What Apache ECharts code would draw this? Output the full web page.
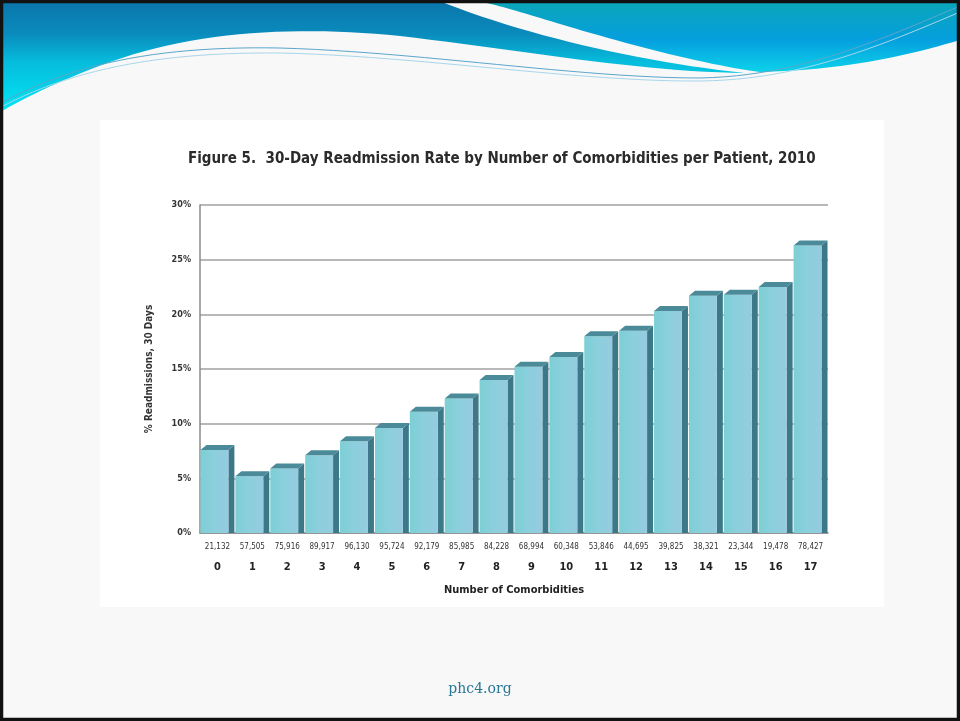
<!DOCTYPE html>
<html>
<head>
<meta charset="utf-8">
<title>30-Day Readmission Rate by Number of Comorbidities</title>
<script src="https://cdn.jsdelivr.net/npm/echarts@6/dist/echarts.min.js"></script>
<style>
  html, body { margin: 0; padding: 0; background: #f8f8f8; }
  #main { width: 960px; height: 721px; }
</style>
</head>
<body>
<div id="main"></div>
<script>
// Number of comorbidities per patient (17 = 17 or more)
const comorbidities = ['0', '1', '2', '3', '4', '5', '6', '7', '8', '9', '10', '11', '12', '13', '14', '15', '16', '17'];
// Patients in each group
const patientCounts = ['21,132', '57,505', '75,916', '89,917', '96,130', '95,724', '92,179', '85,985', '84,228',
                       '68,994', '60,348', '53,846', '44,695', '39,825', '38,321', '23,344', '19,478', '78,427'];
// 30-day readmission rate, percent
const readmissionRate = [7.6, 5.2, 5.9, 7.1, 8.4, 9.6, 11.1, 12.3, 14.0, 15.2, 16.1, 18.0, 18.5, 20.3, 21.7, 21.8, 22.5, 26.3];

const yTicks = { min: 0, max: 30, interval: 5 };

const narrow = "'Liberation Sans Narrow', 'DejaVu Sans Condensed', 'Arial Narrow', sans-serif";

const chart = echarts.init(document.getElementById('main'), null, { renderer: 'canvas' });

// Box-shaped bar: front face, dark right side, dark top cap
function renderBox(params, api) {
  const idx = api.value(0);
  const val = api.value(1);
  const top = api.coord([idx, val]);
  const base = api.coord([idx, 0]);
  const band = api.size([1, 0])[0];
  const w = band * 0.8;
  const d = 6, dy = 5;
  const x0 = top[0] - (w + d) / 2;
  const yt = top[1], yb = base[1];
  return {
    type: 'group',
    children: [
      {
        type: 'polygon',
        shape: { points: [[x0 + w, yt], [x0 + w + d, yt - dy], [x0 + w + d, yb], [x0 + w, yb]] },
        style: { fill: '#3c7888' }
      },
      {
        type: 'rect',
        shape: { x: x0, y: yt, width: w, height: yb - yt },
        style: {
          fill: new echarts.graphic.LinearGradient(0, 0, 1, 0, [
            { offset: 0, color: '#7ccfd5' },
            { offset: 0.5, color: '#8ccfdd' },
            { offset: 1, color: '#95cbe0' }
          ])
        }
      },
      {
        type: 'polygon',
        shape: { points: [[x0, yt], [x0 + d, yt - dy], [x0 + w + d, yt - dy], [x0 + w, yt]] },
        style: { fill: '#4b8b99' }
      }
    ]
  };
}

// Turn a start point plus cubic/line segments into a point list for the banner shapes
function trace(start, segs) {
  const pts = [start];
  let p = start;
  segs.forEach(s => {
    if (s.length === 1) { pts.push(s[0]); p = s[0]; return; }
    const [c1, c2, e] = s;
    for (let k = 1; k <= 24; k++) {
      const t = k / 24, u = 1 - t;
      pts.push([
        u * u * u * p[0] + 3 * u * u * t * c1[0] + 3 * u * t * t * c2[0] + t * t * t * e[0],
        u * u * u * p[1] + 3 * u * u * t * c1[1] + 3 * u * t * t * c2[1] + t * t * t * e[1]
      ]);
    }
    p = e;
  });
  return pts;
}

const leftWave = trace([0, 0], [
  [[437, 0]],
  [[520, 34], [640, 62], [745, 73]],
  [[640, 72], [520, 50], [400, 36]],
  [[300, 26], [200, 30], [110, 62]],
  [[60, 80], [25, 98], [0, 112]]
]);
const rightWave = trace([472, 0], [
  [[960, 0]],
  [[960, 40]],
  [[900, 58], [840, 70], [760, 72]],
  [[700, 64], [620, 42], [560, 24]],
  [[520, 12], [495, 4], [472, 0]]
]);
const lineA = trace([3, 102], [
  [[80, 60], [170, 46], [280, 48]],
  [[420, 52], [580, 78], [700, 78]],
  [[800, 76], [880, 40], [960, 6]]
]);
const lineB = trace([3, 106], [
  [[80, 66], [170, 52], [280, 53]],
  [[420, 56], [580, 82], [700, 81]],
  [[800, 80], [880, 46], [960, 12]]
]);

const banner = [
  {
    type: 'polygon',
    shape: { points: leftWave },
    style: {
      fill: new echarts.graphic.LinearGradient(0, 0, 0, 1, [
        { offset: 0, color: '#0a74aa' },
        { offset: 0.3, color: '#0a8bbc' },
        { offset: 0.55, color: '#06bcdc' },
        { offset: 1, color: '#02e6f4' }
      ])
    },
    z: 1
  },
  {
    type: 'polygon',
    shape: { points: rightWave },
    style: {
      fill: new echarts.graphic.LinearGradient(0, 0, 0, 1, [
        { offset: 0, color: '#0aa6b6' },
        { offset: 0.55, color: '#059fde' },
        { offset: 1, color: '#0cd2ea' }
      ])
    },
    z: 1
  },
  { type: 'polyline', shape: { points: lineA }, style: { fill: null, stroke: '#5aa6cc', lineWidth: 1 }, z: 2 },
  { type: 'polyline', shape: { points: lineB }, style: { fill: null, stroke: '#a8d6ea', lineWidth: 1 }, z: 2 }
];

const option = {
  backgroundColor: '#f8f8f8',
  animation: false,
  title: {
    text: 'Figure 5.  30-Day Readmission Rate by Number of Comorbidities per Patient, 2010',
    left: 183,
    top: 147,
    textStyle: { fontFamily: narrow, fontSize: 15, fontWeight: 'bold', color: '#2b2b2b' }
  },
  graphic: [
    {
      type: 'rect',
      shape: { x: 100, y: 120, width: 784, height: 487 },
      style: { fill: '#ffffff' },
      z: -10
    },
    ...banner,
    {
      type: 'text',
      left: 'center',
      top: 682,
      style: { text: 'phc4.org', fontFamily: "'DejaVu Serif', 'Liberation Serif', serif", fontSize: 14, fill: '#2a7898' }
    },
    {
      type: 'rect',
      shape: { x: 1.5, y: 1.5, width: 957, height: 718 },
      style: { fill: null, stroke: '#111111', lineWidth: 3.5 },
      z: 100
    }
  ],
  grid: { left: 200, right: 132, top: 205, bottom: 188 },
  xAxis: {
    type: 'category',
    data: comorbidities,
    axisLine: { lineStyle: { color: '#8a8a8a', width: 1.5 } },
    axisTick: { show: false },
    axisLabel: {
      interval: 0,
      margin: 7,
      formatter: (v, i) => '{c|' + patientCounts[i] + '}\n{n|' + v + '}',
      rich: {
        c: { fontFamily: narrow, fontSize: 8, color: '#333', lineHeight: 14 },
        n: { fontFamily: narrow, fontSize: 11, fontWeight: 'bold', color: '#222', lineHeight: 26 }
      }
    },
    name: 'Number of Comorbidities',
    nameLocation: 'middle',
    nameGap: 52,
    nameTextStyle: { fontFamily: narrow, fontSize: 11, fontWeight: 'bold', color: '#222' }
  },
  yAxis: {
    type: 'value',
    min: yTicks.min,
    max: yTicks.max,
    interval: yTicks.interval,
    axisLine: { show: true, lineStyle: { color: '#8a8a8a', width: 1.5 } },
    axisTick: { show: false },
    splitLine: { lineStyle: { color: '#a0a0a0', width: 1.5 } },
    axisLabel: {
      margin: 9,
      formatter: '{value}%',
      fontFamily: narrow, fontSize: 9, fontWeight: 'bold', color: '#333'
    },
    name: '% Readmissions, 30 Days',
    nameLocation: 'middle',
    nameGap: 46,
    nameTextStyle: { fontFamily: narrow, fontSize: 10, fontWeight: 'bold', color: '#333' }
  },
  series: [
    {
      type: 'custom',
      renderItem: renderBox,
      data: readmissionRate.map((v, i) => [i, v]),
      encode: { x: 0, y: 1 },
      clip: false,
      z: 3
    }
  ]
};

chart.setOption(option);
</script>
</body>
</html>
